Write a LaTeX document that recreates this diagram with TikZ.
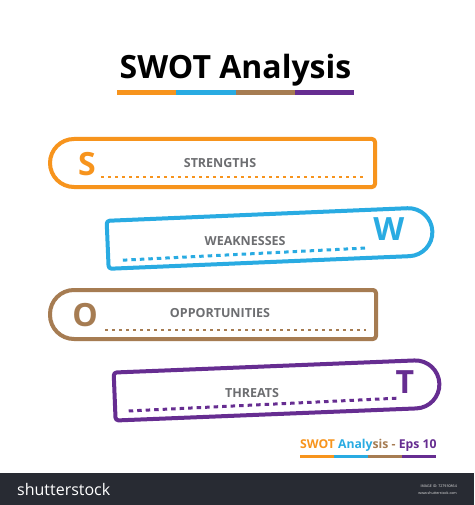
\documentclass[tikz,border=0pt]{standalone}
\usepackage{fontspec}
\setmainfont{Open Sans}
\definecolor{sorange}{HTML}{F7941D}
\definecolor{sblue}{HTML}{29ABE2}
\definecolor{sbrown}{HTML}{A67C52}
\definecolor{spurple}{HTML}{662D91}
\definecolor{labelgray}{HTML}{6D6E71}
\definecolor{footbar}{HTML}{282B33}
\begin{document}
\begin{tikzpicture}[x=1pt,y=-1pt,
  boxline/.style={line width=4pt, line join=round},
  dotline/.style={line width=2.6pt, dash pattern=on 3pt off 4pt},
  dotlinebig/.style={line width=3pt, dash pattern=on 4.5pt off 4pt},
  lbl/.style={font=\bfseries\fontsize{12.5}{13}\selectfont, text=labelgray, inner sep=0},
  bigletter/.style={font=\bfseries\fontsize{32}{32}\selectfont, inner sep=0},
  bar/.style={line width=#1},
]
\useasboundingbox (0,0) rectangle (474,505);
\fill[white] (0,0) rectangle (474,505);

% title
\node[font=\bfseries\fontsize{32}{32}\selectfont, anchor=base, inner sep=0] (title) at (235.5,79) {SWOT Analysis};
\coordinate (tb0) at (117,92.5);
\coordinate (tb1) at (176,92.5);
\coordinate (tb2) at (235.5,92.5);
\coordinate (tb3) at (295,92.5);
\coordinate (tb4) at (354,92.5);
\draw[bar=5pt, sorange] (tb0) -- (tb1);
\draw[bar=5pt, sblue] (tb1) -- (tb2);
\draw[bar=5pt, sbrown] (tb2) -- (tb3);
\draw[bar=5pt, spurple] (tb3) -- (tb4);

% S box
\draw[boxline, sorange] (200,139) [rounded corners=3pt]-- (375,139) -- (375,187) [rounded corners=24pt]-- (50,187) -- (50,139) -- cycle;
\node[bigletter, text=sorange] (S) at (87,164) {S};
\node[lbl] (strengths) at (220,163) {STRENGTHS};
\coordinate (sd0) at (101,177);
\coordinate (sd1) at (366,177);
\draw[dotline, sorange] (sd0) -- (sd1);

% W box
\begin{scope}[shift={(270,238)}, rotate=2.4]
\draw[boxline, sblue] (0,-24) [rounded corners=24pt]-- (162.5,-24) -- (162.5,24) [rounded corners=3pt]-- (-162.5,24) -- (-162.5,-24) -- cycle;
\node[bigletter, text=sblue] (W) at (119,-4) {W};
\node[lbl] (weak) at (-25,2) {WEAKNESSES};
\coordinate (wd0) at (-148,16);
\coordinate (wd1) at (98,14);
\draw[dotlinebig, sblue] (wd0) -- (wd1);
\end{scope}

% O box
\draw[boxline, sbrown] (200,290) [rounded corners=3pt]-- (376,290) -- (376,339) [rounded corners=24pt]-- (50,339) -- (50,290) -- cycle;
\node[bigletter, text=sbrown] (O) at (85,315) {O};
\node[lbl] (opp) at (220,313) {OPPORTUNITIES};
\coordinate (od0) at (105,330);
\coordinate (od1) at (366,330);
\draw[dotline, sbrown] (od0) -- (od1);

% T box
\begin{scope}[shift={(277,390)}, rotate=2.3]
\draw[boxline, spurple] (0,-24) [rounded corners=24pt]-- (162.5,-24) -- (162.5,24) [rounded corners=3pt]-- (-162.5,24) -- (-162.5,-24) -- cycle;
\node[bigletter, text=spurple] (T) at (128,-3) {T};
\node[lbl] (threats) at (-25,2) {THREATS};
\coordinate (td0) at (-149,15);
\coordinate (td1) at (120,13);
\draw[dotlinebig, spurple] (td0) -- (td1);
\end{scope}

% footer label
\node[font=\bfseries\fontsize{12.2}{12}\selectfont, anchor=base west, inner sep=0] (eps) at (300,448)
  {\textcolor{sorange}{SWOT }\textcolor{sblue}{Analy}\textcolor{sbrown}{sis - }\textcolor{spurple}{Eps 10}};
\coordinate (fb0) at (300,456);
\coordinate (fb1) at (334,456);
\coordinate (fb2) at (368,456);
\coordinate (fb3) at (402,456);
\coordinate (fb4) at (436,456);
\draw[bar=3pt, sorange] (fb0) -- (fb1);
\draw[bar=3pt, sblue] (fb1) -- (fb2);
\draw[bar=3pt, sbrown] (fb2) -- (fb3);
\draw[bar=3pt, spurple] (fb3) -- (fb4);

% watermark bar
\fill[footbar] (0,473) rectangle (474,505);
\node[font=\fontsize{16}{16}\selectfont, text=white, anchor=base west, inner sep=0] (ss) at (17,495) {shutterstock};
\node[font=\fontsize{3.6}{4}\selectfont, text=white!80!gray, anchor=base east, inner sep=0] (imgid) at (457,487) {IMAGE ID: 727930864};
\node[font=\fontsize{3.6}{4}\selectfont, text=white!80!gray, anchor=base east, inner sep=0] (www) at (457,494) {www.shutterstock.com};
\end{tikzpicture}
\end{document}
